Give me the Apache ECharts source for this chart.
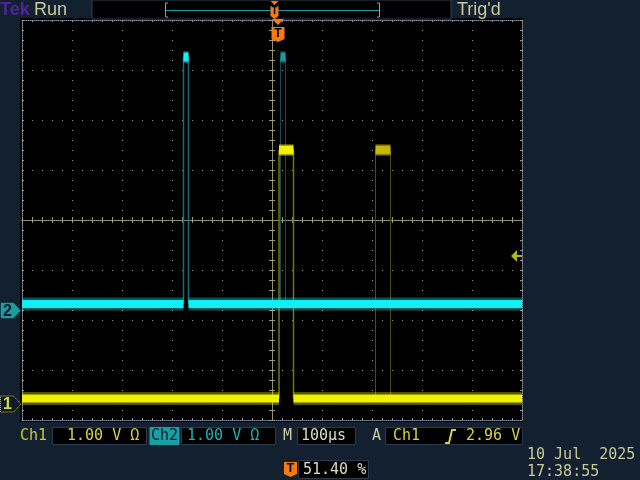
<!DOCTYPE html>
<html><head><meta charset="utf-8">
<script src="https://cdn.jsdelivr.net/npm/echarts@6/dist/echarts.min.js"></script>
<style>
html,body{margin:0;padding:0;background:#132030;overflow:hidden;}
#plotbg{position:absolute;left:20px;top:18px;width:503px;height:404px;background:#000;}
#chart{position:absolute;left:0;top:0;width:640px;height:480px;}
</style></head><body>
<div id="plotbg"></div>
<div id="chart"></div>
<script>
// ---- data ----
const timeRange = [-514, 486];          // µs, trigger (t=0) at 51.40 % of record
const ch1Range = [-0.32, 7.68];         // volts visible (1 V/div, ground marker position)
const ch2Range = [-2.19, 5.81];
const ch1Levels = [0.11, 5.08];         // [low, high] volts
const ch2Levels = [0.13, 5.07];
const ch1Pulses = [[0, 29]];            // [start, end] µs
const ch1GhostPulses = [[193, 223]];
const ch2Pulses = [[-191, -181]];
const ch2GhostPulses = [[3, 13]];
const trigLevel = 2.96;                 // V
const divRangeX = [-5, 5];
const divRangeY = [-4, 4];
const topLabels = ['Tek', 'Run', "Trig'd"];
const chLabels = ['Ch1', '1.00 V Ω', 'Ch2', '1.00 V Ω'];
const timeLabels = ['M', '100µs', 'A', 'Ch1', '2.96 V'];
const posLabel = '51.40 %';
const dateLabels = ['10 Jul  2025', '17:38:55'];

// ---- styling ----
const GRAT = '#9a9a7c';
const BORDER = '#8c8ca4';
const KHAKI = '#c8c89a';
const Y1 = '#f2f200', Y1dim = '#c4b800', Y1edge = '#77770f', Y1edgeDim = '#4c4c0a';
const C2 = '#10eef6', C2dim = '#119ca6', C2edge = '#1f6a70', C2edgeDim = '#124a50';
const SANS = '"Liberation Sans", Arial, sans-serif';
const MONO = '"DejaVu Sans Mono", monospace';

function baseline(pulses, low) {
  const out = [];
  let cur = timeRange[0];
  pulses.forEach(([a, b]) => { out.push([cur, low], [a, low], ['-', '-']); cur = b; });
  out.push([cur, low], [timeRange[1], low]);
  return out;
}
function outline(pulses, lv) {
  const out = [];
  pulses.forEach(([a, b], i) => {
    if (i) out.push(['-', '-']);
    out.push([a, lv[0]], [a, lv[1]], [b, lv[1]], [b, lv[0]]);
  });
  return out;
}
function tops(pulses, high) {
  const out = [];
  pulses.forEach(([a, b], i) => { if (i) out.push(['-', '-']); out.push([a, high], [b, high]); });
  return out;
}
function lineSeries(data, yIdx, color, width, z, opacity) {
  return {
    type: 'line', xAxisIndex: 6, yAxisIndex: 6 + yIdx, data, symbol: 'none',
    connectNulls: false, silent: true, z,
    lineStyle: { color, width, cap: 'butt', opacity: opacity == null ? 1 : opacity }
  };
}

const G = { left: 22, top: 20, width: 500, height: 400 };
const grids = [0, 1, 2, 3].map(() => Object.assign({}, G));

function gratAxis(extra) {
  return Object.assign({
    type: 'value', axisLabel: { show: false }, splitLine: { show: false },
    axisLine: { show: true, onZero: false, lineStyle: { color: BORDER, width: 1, type: [1, 1] } },
    axisTick: { show: true, inside: true, length: 2, lineStyle: { color: GRAT } },
    minorTick: { show: true, splitNumber: 5, length: 2, lineStyle: { color: GRAT } }
  }, extra);
}
function centerAxis(extra, inside) {
  return Object.assign({
    type: 'value', axisLabel: { show: false }, splitLine: { show: false },
    axisLine: { show: true, onZero: true, lineStyle: { color: GRAT, width: 1, type: [1, 1] } },
    axisTick: { show: true, inside, length: 3, lineStyle: { color: GRAT } },
    minorTick: { show: true, splitNumber: 5, length: 3, lineStyle: { color: GRAT } }
  }, extra);
}
const split = { show: true, lineStyle: { color: GRAT, width: 1, type: [1, 9] } };

const xAxis = [
  gratAxis({ gridIndex: 0, position: 'bottom', min: divRangeX[0], max: divRangeX[1], interval: 1, splitLine: split }),
  gratAxis({ gridIndex: 0, position: 'top', min: divRangeX[0], max: divRangeX[1], interval: 1 }),
  centerAxis({ gridIndex: 1, min: divRangeX[0], max: divRangeX[1], interval: 1 }, false),
  centerAxis({ gridIndex: 2, min: divRangeX[0], max: divRangeX[1], interval: 1 }, true),
  { gridIndex: 3, type: 'value', show: false, min: divRangeX[0], max: divRangeX[1] },
  { gridIndex: 3, type: 'value', show: false, min: divRangeX[0], max: divRangeX[1] },
  { gridIndex: 3, type: 'value', show: false, min: timeRange[0], max: timeRange[1] }
];
const yAxis = [
  gratAxis({ gridIndex: 0, position: 'left', min: divRangeY[0], max: divRangeY[1], interval: 1, splitLine: split }),
  gratAxis({ gridIndex: 0, position: 'right', min: divRangeY[0], max: divRangeY[1], interval: 1 }),
  centerAxis({ gridIndex: 1, min: divRangeY[0], max: divRangeY[1], interval: 1 }, false),
  centerAxis({ gridIndex: 2, min: divRangeY[0], max: divRangeY[1], interval: 1 }, true),
  { gridIndex: 3, type: 'value', show: false, min: divRangeY[0], max: divRangeY[1] },
  { gridIndex: 3, type: 'value', show: false, min: divRangeY[0], max: divRangeY[1] },
  { gridIndex: 3, type: 'value', show: false, min: ch1Range[0], max: ch1Range[1] },
  { gridIndex: 3, type: 'value', show: false, min: ch2Range[0], max: ch2Range[1] }
];

const series = [
  // ghost (infrequent) pulses
  lineSeries(outline(ch1GhostPulses, ch1Levels), 0, Y1edgeDim, 1, 3),
  lineSeries(tops(ch1GhostPulses, ch1Levels[1]), 0, Y1dim, 12, 4, 0.35),
  lineSeries(tops(ch1GhostPulses, ch1Levels[1]), 0, Y1dim, 9, 4),
  lineSeries(outline(ch2GhostPulses, ch2Levels), 1, C2edgeDim, 1, 3),
  lineSeries(tops(ch2GhostPulses, ch2Levels[1]), 1, C2dim, 12, 4, 0.35),
  lineSeries(tops(ch2GhostPulses, ch2Levels[1]), 1, C2dim, 9, 4),
  // main pulses
  lineSeries(outline(ch1Pulses, ch1Levels), 0, Y1edge, 1.5, 5),
  lineSeries(outline(ch2Pulses, ch2Levels), 1, C2edge, 1.5, 5),
  lineSeries(tops(ch1Pulses, ch1Levels[1]), 0, Y1, 12, 6, 0.35),
  lineSeries(tops(ch1Pulses, ch1Levels[1]), 0, Y1, 9, 6),
  lineSeries(tops(ch2Pulses, ch2Levels[1]), 1, C2, 12, 6, 0.35),
  lineSeries(tops(ch2Pulses, ch2Levels[1]), 1, C2, 9, 6),
  // baselines (core + noise halo)
  lineSeries(baseline(ch1Pulses, ch1Levels[0]), 0, Y1, 13, 7, 0.35),
  lineSeries(baseline(ch1Pulses, ch1Levels[0]), 0, Y1, 8, 7),
  lineSeries(baseline(ch2Pulses, ch2Levels[0]), 1, C2, 13, 7, 0.35),
  lineSeries(baseline(ch2Pulses, ch2Levels[0]), 1, C2, 8, 7)
];

const chart = echarts.init(document.getElementById('chart'), null, { renderer: 'canvas' });
chart.setOption({ backgroundColor: 'transparent', animation: false, grid: grids, xAxis, yAxis, series });

// ---- positions of indicators from the axes ----
const gnd1 = chart.convertToPixel({ yAxisIndex: 6 }, 0);
const gnd2 = chart.convertToPixel({ yAxisIndex: 7 }, 0);
const trigY = chart.convertToPixel({ yAxisIndex: 6 }, trigLevel);
const trigX = chart.convertToPixel({ xAxisIndex: 6 }, 0);
const rightX = G.left + G.width;

function txt(x, y, text, fill, font, extra) {
  return Object.assign({ type: 'text', z: 100, style: Object.assign({ x, y, text, fill, font, verticalAlign: 'middle' }, extra || {}) });
}
const RO = '15px ' + MONO;
function box(x, y, w, h, fill, stroke) {
  return { type: 'rect', z: 90, shape: { x, y, width: w, height: h }, style: { fill, stroke: stroke || null, lineWidth: 1 } };
}
function tIcon(cx, y0, h, w) {
  const hw = w / 2;
  return [
    { type: 'polygon', z: 100, shape: { points: [[cx - hw, y0], [cx + hw, y0], [cx + hw, y0 + h - 3], [cx, y0 + h], [cx - hw, y0 + h - 3]] }, style: { fill: '#f57a12' } },
    { type: 'text', z: 101, style: { x: cx, y: y0 + h / 2 - 1, text: 'T', fill: '#000', font: 'bold ' + (h - 3) + 'px ' + SANS, align: 'center', verticalAlign: 'middle' } }
  ];
}
function chMarker(y, label, fill, stroke, tcol) {
  return [
    { type: 'polygon', z: 100, shape: { points: [[0.5, y - 8], [13.5, y - 8], [21, y], [13.5, y + 8], [0.5, y + 8]] }, style: { fill, stroke, lineWidth: 1, lineDash: [1, 1] } },
    txt(3, y + 1, label, tcol, 'bold 16px ' + SANS)
  ];
}

const els = [
  // top bar
  txt(0, 10, topLabels[0], '#4d2499', 'bold 18px ' + SANS),
  txt(34, 10, topLabels[1], KHAKI, '18px ' + SANS),
  box(92, 0, 359, 19, '#000', '#334052'),
  { type: 'polyline', z: 95, shape: { points: [[168, 3], [165.5, 3], [165.5, 17], [168, 17]] }, style: { stroke: '#a0a080', fill: null } },
  { type: 'polyline', z: 95, shape: { points: [[377, 3], [379.5, 3], [379.5, 17], [377, 17]] }, style: { stroke: '#a0a080', fill: null } },
  { type: 'line', z: 95, shape: { x1: 166, y1: 10.5, x2: 379, y2: 10.5 }, style: { stroke: '#139ca0', lineWidth: 1 } },
  { type: 'polygon', z: 100, shape: { points: [[270.5, 1], [278.5, 1], [274.5, 5]] }, style: { fill: '#f57a12' } },
  ...tIcon(274.5, 6, 13, 8),
  txt(457, 10, topLabels[2], KHAKI, '18px ' + SANS),
  // trigger position marker
  { type: 'polygon', z: 100, shape: { points: [[trigX - 7, 19], [trigX + 5, 19], [trigX - 1, 25]] }, style: { fill: '#f57a12' } },
  ...tIcon(trigX - 1, 27, 15, 13),
  // trigger level arrow
  { type: 'polygon', z: 100, shape: { points: [[rightX - 11, trigY], [rightX - 5, trigY - 6], [rightX - 5, trigY + 6]] }, style: { fill: '#b4b41e' } },
  { type: 'rect', z: 100, shape: { x: rightX - 5, y: trigY - 1, width: 5, height: 2 }, style: { fill: '#b4b41e' } },
  // channel ground markers
  ...chMarker(gnd2, '2', '#1a9ca0', '#0a1a24', '#0a1a24'),
  ...chMarker(gnd1, '1', '#101a24', '#c8c832', '#d8d840'),
  // bottom readouts
  txt(20, 436, chLabels[0], '#c8c83a', RO),
  box(52.5, 427.5, 94, 17, '#000', '#2c3a4c'),
  txt(67, 436, chLabels[1], '#d4d442', RO),
  box(149.5, 427, 30, 18, '#16a0a4'),
  txt(151, 436, chLabels[2], '#0c1c2c', RO),
  box(181.5, 427.5, 94, 17, '#000', '#2c3a4c'),
  txt(187, 436, chLabels[3], '#1ab4b8', RO),
  txt(283, 436, timeLabels[0], KHAKI, RO),
  box(297.5, 427.5, 58, 17, '#000', '#2c3a4c'),
  txt(301, 436, timeLabels[1], '#dcdcc0', RO),
  txt(372, 436, timeLabels[2], KHAKI, RO),
  box(385.5, 427.5, 137, 17, '#000', '#2c3a4c'),
  txt(393, 436, timeLabels[3], '#d4d442', RO),
  { type: 'polyline', z: 100, shape: { points: [[445, 443], [449, 443], [452, 430], [456, 430]] }, style: { stroke: '#d4d442', lineWidth: 2, fill: null } },
  txt(466, 436, timeLabels[4], '#d4d442', RO),
  ...tIcon(290.5, 462, 15, 13),
  box(298.5, 460.5, 70, 18, '#000', '#2c3a4c'),
  txt(303, 470, posLabel, '#dcdcc0', RO),
  txt(527, 455, dateLabels[0], KHAKI, RO),
  txt(527, 472, dateLabels[1], KHAKI, RO)
];
chart.setOption({ graphic: { elements: els } });
</script>
</body></html>
